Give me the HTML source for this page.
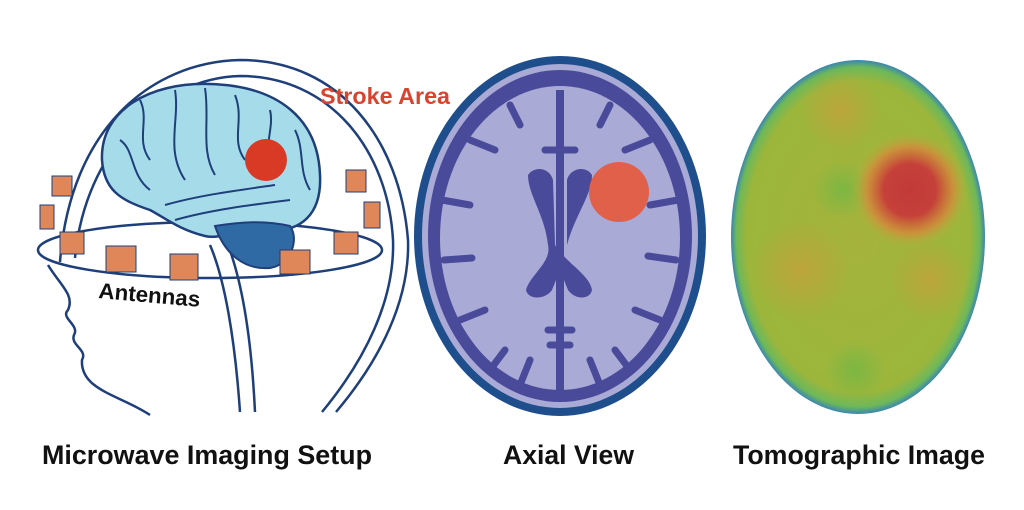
<!DOCTYPE html>
<html><head><meta charset="utf-8"><style>
body{margin:0;width:1024px;height:505px;background:#fff;overflow:hidden;font-family:"Liberation Sans",sans-serif}
</style></head><body>
<svg width="1024" height="505" viewBox="0 0 1024 505">
<defs>
<radialGradient id="tg" cx="50%" cy="50%" r="50%">
<stop offset="0" stop-color="#a5b33c"/><stop offset="0.88" stop-color="#9cb63c"/><stop offset="0.96" stop-color="#6cb85a"/><stop offset="1" stop-color="#3b86b0"/></radialGradient>
<radialGradient id="rs"><stop offset="0" stop-color="#c23a38"/><stop offset="0.45" stop-color="#c6403a"/><stop offset="0.75" stop-color="#d48a3a" stop-opacity="0.8"/><stop offset="1" stop-color="#b6b03c" stop-opacity="0"/></radialGradient>
<radialGradient id="og"><stop offset="0" stop-color="#d09a3a" stop-opacity="0.6"/><stop offset="1" stop-color="#d09a3a" stop-opacity="0"/></radialGradient>
<radialGradient id="gg"><stop offset="0" stop-color="#6cb845" stop-opacity="0.7"/><stop offset="1" stop-color="#6cb845" stop-opacity="0"/></radialGradient>
<clipPath id="tc"><ellipse cx="858" cy="237" rx="127" ry="177"/></clipPath>
</defs>
<!-- left: head -->
<g fill="none" stroke="#1e3f7a" stroke-width="2.5">
<path d="M60 262 C70 130 150 62 240 60 C340 60 400 140 408 240 C410 300 380 360 336 412"/>
<path d="M75 258 C85 150 160 78 240 76 C330 76 388 150 393 240 C395 300 365 360 322 412"/>
<path d="M48 265 C60 285 75 295 68 310 C60 318 80 325 74 335 C70 345 88 350 82 360 C80 390 120 395 150 415"/>
<path d="M210 245 C225 280 235 340 240 412"/><path d="M228 245 C245 290 252 350 255 412"/>
<ellipse cx="210" cy="250" rx="172" ry="28"/>
</g>
<path d="M102 160 C100 110 150 82 210 84 C280 86 318 120 320 175 C322 215 300 232 270 230 C240 228 220 240 205 236 C180 230 165 218 150 210 C120 200 104 190 102 160Z" fill="#a6dcea" stroke="#1e3f7a" stroke-width="2.5"/>
<path d="M215 226 C240 222 265 220 290 226 C300 240 290 265 270 268 C245 270 225 255 215 226Z" fill="#2f6aa5" stroke="#1e3f7a" stroke-width="2"/>
<g fill="none" stroke="#1e3f7a" stroke-width="2">
<path d="M140 100 C150 120 135 140 150 160"/><path d="M175 90 C180 120 165 150 185 180"/><path d="M205 88 C210 120 200 150 215 175"/><path d="M235 95 C245 120 230 140 245 160"/><path d="M270 110 C275 130 260 150 275 170"/><path d="M120 140 C135 150 130 175 150 190"/><path d="M165 205 C200 195 240 190 275 185"/><path d="M175 220 C210 210 250 205 290 200"/><path d="M295 130 C305 150 298 170 310 190"/>
</g>
<circle cx="266" cy="160" r="21" fill="#d93a25"/>
<g fill="#e0875a" stroke="#1e3f7a" stroke-width="1">
<rect x="52" y="176" width="20" height="20"/><rect x="40" y="205" width="14" height="24"/><rect x="60" y="232" width="24" height="22"/><rect x="106" y="246" width="30" height="26"/><rect x="170" y="254" width="28" height="26"/><rect x="280" y="250" width="30" height="24"/><rect x="334" y="232" width="24" height="22"/><rect x="364" y="202" width="16" height="26"/><rect x="346" y="170" width="20" height="22"/>
</g>
<text x="320" y="104" font-size="23" font-weight="bold" fill="#d94430" textLength="130" lengthAdjust="spacingAndGlyphs">Stroke Area</text>
<text x="98" y="298" font-size="22" font-weight="bold" fill="#111" transform="rotate(5 98 298)" textLength="102" lengthAdjust="spacingAndGlyphs">Antennas</text>
<!-- axial -->
<ellipse cx="560" cy="236" rx="146" ry="180" fill="#1f4e8c"/>
<ellipse cx="560" cy="236" rx="138" ry="172" fill="#a9aad6"/>
<ellipse cx="560" cy="236" rx="132" ry="166" fill="#4a4a9a"/>
<ellipse cx="560" cy="238" rx="120" ry="152" fill="#a9aad6"/>
<g fill="none" stroke="#4a4a9a" stroke-width="7" stroke-linecap="round">
<path d="M442 200 L470 205"/><path d="M444 260 L472 258"/><path d="M460 320 L485 310"/><path d="M470 140 L495 150"/><path d="M510 105 L520 125"/>
<path d="M678 200 L650 205"/><path d="M676 260 L648 256"/><path d="M660 320 L635 310"/><path d="M650 140 L625 150"/><path d="M610 105 L600 125"/>
<path d="M490 370 L505 350"/><path d="M630 370 L615 350"/><path d="M520 385 L530 360"/><path d="M600 385 L590 360"/>
<path d="M545 150 L575 150"/><path d="M548 330 L572 330"/><path d="M550 345 L570 345"/>
</g>
<rect x="556" y="90" width="8" height="300" fill="#4a4a9a"/>
<path d="M528 175 C535 165 550 168 553 180 L555 245 C565 262 590 275 592 290 C590 300 575 300 568 290 L560 270 L552 290 C545 300 528 300 526 290 C530 275 552 262 548 245 C545 215 528 195 528 175Z M567 180 C570 168 586 165 592 175 C592 195 575 215 567 245Z" fill="#4a4a9a"/>
<circle cx="619" cy="192" r="30" fill="#e0604a"/>
<!-- tomographic -->
<ellipse cx="858" cy="237" rx="127" ry="177" fill="url(#tg)"/>
<g clip-path="url(#tc)">
<circle cx="800" cy="270" r="50" fill="url(#og)"/><circle cx="930" cy="280" r="40" fill="url(#og)"/><circle cx="840" cy="110" r="40" fill="url(#og)"/>
<circle cx="842" cy="190" r="30" fill="url(#gg)"/><circle cx="855" cy="370" r="30" fill="url(#gg)"/>
<circle cx="910" cy="190" r="58" fill="url(#rs)"/>
</g>
<!-- captions -->
<g font-size="27" font-weight="bold" fill="#111">
<text x="42" y="464" textLength="330" lengthAdjust="spacingAndGlyphs">Microwave Imaging Setup</text>
<text x="503" y="464" textLength="131" lengthAdjust="spacingAndGlyphs">Axial View</text>
<text x="733" y="464" textLength="252" lengthAdjust="spacingAndGlyphs">Tomographic Image</text>
</g>
</svg>
</body></html>
